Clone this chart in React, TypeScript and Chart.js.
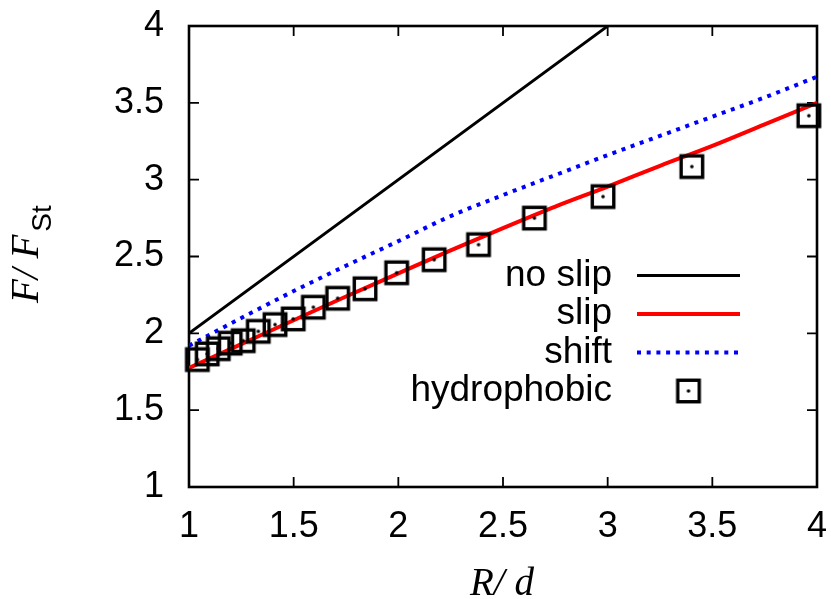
import React, { useEffect, useRef } from 'react';
import { Chart, registerables } from 'chart.js';

Chart.register(...registerables);

// ---- data ----
const xTickValues = [1, 1.5, 2, 2.5, 3, 3.5, 4];
const yTickValues = [1, 1.5, 2, 2.5, 3, 3.5, 4];

const noSlipX = [1, 3];
const noSlipY = [2, 4];

const slipX = [1, 1.25, 1.5, 1.75, 2, 2.25, 2.5, 2.75, 3, 3.25, 3.5, 3.75, 4];
const slipY = [1.775, 1.93, 2.085, 2.24, 2.39, 2.54, 2.685, 2.825, 2.955, 3.09, 3.22, 3.36, 3.5];

const shiftX = [1, 1.25, 1.5, 1.75, 2, 2.25, 2.5, 2.75, 3, 3.25, 3.5, 3.75, 4];
const shiftY = [1.92, 2.1, 2.275, 2.44, 2.6, 2.763, 2.9, 3.03, 3.16, 3.285, 3.41, 3.535, 3.67];

const hydroX = [1.04, 1.087, 1.14, 1.197, 1.259, 1.331, 1.411, 1.498, 1.594, 1.71, 1.841, 1.992, 2.171, 2.383, 2.65, 2.978, 3.402, 3.961];
const hydroY = [1.829, 1.866, 1.9, 1.936, 1.952, 2.013, 2.057, 2.094, 2.17, 2.228, 2.29, 2.394, 2.479, 2.577, 2.75, 2.89, 3.085, 3.416];

const seriesNames = ['no slip', 'slip', 'shift', 'hydrophobic'];
const xTitleText = 'R/ d';
const yTitleMain = 'F/ F';
const yTitleSub = 'St';

const SANS = '"Liberation Sans", Arial, Helvetica, sans-serif';
const SERIF = '"Liberation Serif", "Times New Roman", serif';

const toPts = (xs: number[], ys: number[]) => xs.map((x, i) => ({ x, y: ys[i] }));

function makeMarker(): HTMLCanvasElement {
  const c = document.createElement('canvas');
  c.width = 32;
  c.height = 32;
  const g = c.getContext('2d')!;
  g.strokeStyle = '#000';
  g.lineWidth = 3.4;
  const s = 21.5;
  g.strokeRect(16 - s / 2, 16 - s / 2, s, s);
  g.fillStyle = '#000';
  g.beginPath();
  g.arc(16, 16, 1.8, 0, Math.PI * 2);
  g.fill();
  return c;
}

const lineStyles = [
  { color: '#000000', width: 2.8, dash: [] as number[] },
  { color: '#ff0000', width: 4, dash: [] as number[] },
  { color: '#0000ff', width: 4, dash: [4, 5.7] },
];

export default function App() {
  const ref = useRef<HTMLCanvasElement | null>(null);

  useEffect(() => {
    if (!ref.current) return;
    const marker = makeMarker();

    const framePlugin = {
      id: 'gnuplotFrame',
      beforeDatasetsDraw(chart: any) {
        const { ctx, chartArea: a, scales } = chart;
        ctx.save();
        ctx.strokeStyle = '#000';
        ctx.lineWidth = 1.8;
        const tl = 10;
        ctx.beginPath();
        xTickValues.forEach((v) => {
          const px = scales.x.getPixelForValue(v);
          ctx.moveTo(px, a.bottom);
          ctx.lineTo(px, a.bottom - tl);
          ctx.moveTo(px, a.top);
          ctx.lineTo(px, a.top + tl);
        });
        yTickValues.forEach((v) => {
          const py = scales.y.getPixelForValue(v);
          ctx.moveTo(a.left, py);
          ctx.lineTo(a.left + tl, py);
          ctx.moveTo(a.right, py);
          ctx.lineTo(a.right - tl, py);
        });
        ctx.stroke();
        ctx.lineWidth = 2.6;
        ctx.strokeRect(a.left, a.top, a.right - a.left, a.bottom - a.top);
        ctx.restore();
      },
      afterDraw(chart: any) {
        const { ctx, chartArea: a } = chart;
        ctx.save();
        ctx.fillStyle = '#000';
        // x title
        ctx.font = `italic 39px ${SERIF}`;
        ctx.textAlign = 'center';
        ctx.textBaseline = 'alphabetic';
        ctx.fillText(xTitleText, 502, 595);
        // y title (rotated)
        ctx.translate(38, 303);
        ctx.rotate(-Math.PI / 2);
        ctx.textAlign = 'left';
        ctx.font = `italic 39px ${SERIF}`;
        ctx.fillText(yTitleMain, 0, 0);
        const w = ctx.measureText(yTitleMain).width;
        ctx.font = `28px ${SANS}`;
        ctx.fillText(yTitleSub, w + 3, 13);
        ctx.restore();

        // legend (gnuplot style: text right-aligned, sample to the right)
        const rows = [275.5, 314, 352.5, 391];
        const textRight = 612;
        const x0 = 637;
        const x1 = 740;
        ctx.save();
        ctx.font = `37px ${SANS}`;
        ctx.textAlign = 'right';
        ctx.textBaseline = 'middle';
        ctx.fillStyle = '#000';
        seriesNames.forEach((name, i) => {
          const y = rows[i];
          ctx.fillText(name, textRight, y);
          if (i < 3) {
            const st = lineStyles[i];
            ctx.strokeStyle = st.color;
            ctx.lineWidth = st.width;
            ctx.setLineDash(st.dash);
            ctx.beginPath();
            ctx.moveTo(x0, y);
            ctx.lineTo(x1, y);
            ctx.stroke();
            ctx.setLineDash([]);
          } else {
            ctx.drawImage(marker, (x0 + x1) / 2 - 16, y - 16);
          }
        });
        ctx.restore();
      },
    };

    const lineDs = (i: number, data: any[]) => ({
      label: seriesNames[i],
      data,
      showLine: true,
      borderColor: lineStyles[i].color,
      backgroundColor: lineStyles[i].color,
      borderWidth: lineStyles[i].width,
      borderDash: lineStyles[i].dash,
      pointRadius: 0,
      pointHoverRadius: 0,
      cubicInterpolationMode: 'monotone' as const,
      order: i + 1,
    });

    const chart = new Chart(ref.current, {
      type: 'scatter',
      data: {
        datasets: [
          lineDs(0, toPts(noSlipX, noSlipY)),
          lineDs(1, toPts(slipX, slipY)),
          lineDs(2, toPts(shiftX, shiftY)),
          {
            label: seriesNames[3],
            data: toPts(hydroX, hydroY),
            showLine: false,
            pointStyle: marker as any,
            pointRadius: 12,
            pointHoverRadius: 12,
            clip: false as any,
            order: 0,
          },
        ],
      },
      options: {
        animation: false,
        responsive: false,
        devicePixelRatio: 1,
        events: [],
        layout: { padding: { left: 0, right: 14, top: 26, bottom: 0 } },
        plugins: {
          legend: { display: false },
          tooltip: { enabled: false },
          title: { display: false },
        },
        scales: {
          x: {
            type: 'linear',
            min: 1,
            max: 4,
            afterBuildTicks: (scale: any) => {
              scale.ticks = xTickValues.map((v) => ({ value: v }));
            },
            afterFit: (scale: any) => {
              scale.height = 112;
              scale.paddingLeft = 0;
              scale.paddingRight = 0;
              scale.paddingTop = 0;
              scale.paddingBottom = 0;
            },
            grid: { display: false, drawTicks: false },
            border: { display: false },
            ticks: {
              color: '#000',
              font: { family: SANS, size: 36 },
              padding: 18,
              maxRotation: 0,
              autoSkip: false,
              callback: (v: any) => String(v),
            },
          },
          y: {
            type: 'linear',
            min: 1,
            max: 4,
            afterBuildTicks: (scale: any) => {
              scale.ticks = yTickValues.map((v) => ({ value: v }));
            },
            afterFit: (scale: any) => {
              scale.width = 189;
              scale.paddingLeft = 0;
              scale.paddingRight = 0;
              scale.paddingTop = 0;
              scale.paddingBottom = 0;
            },
            grid: { display: false, drawTicks: false },
            border: { display: false },
            ticks: {
              color: '#000',
              font: { family: SANS, size: 36 },
              padding: 25,
              autoSkip: false,
              callback: (v: any) => String(v),
            },
          },
        },
      },
      plugins: [framePlugin],
    });

    return () => chart.destroy();
  }, []);

  return (
    <div style={{ position: 'fixed', left: 0, top: 0, width: 831, height: 599, background: '#fff' }}>
      <canvas ref={ref} width={831} height={599} style={{ display: 'block', width: 831, height: 599 }} />
    </div>
  );
}
